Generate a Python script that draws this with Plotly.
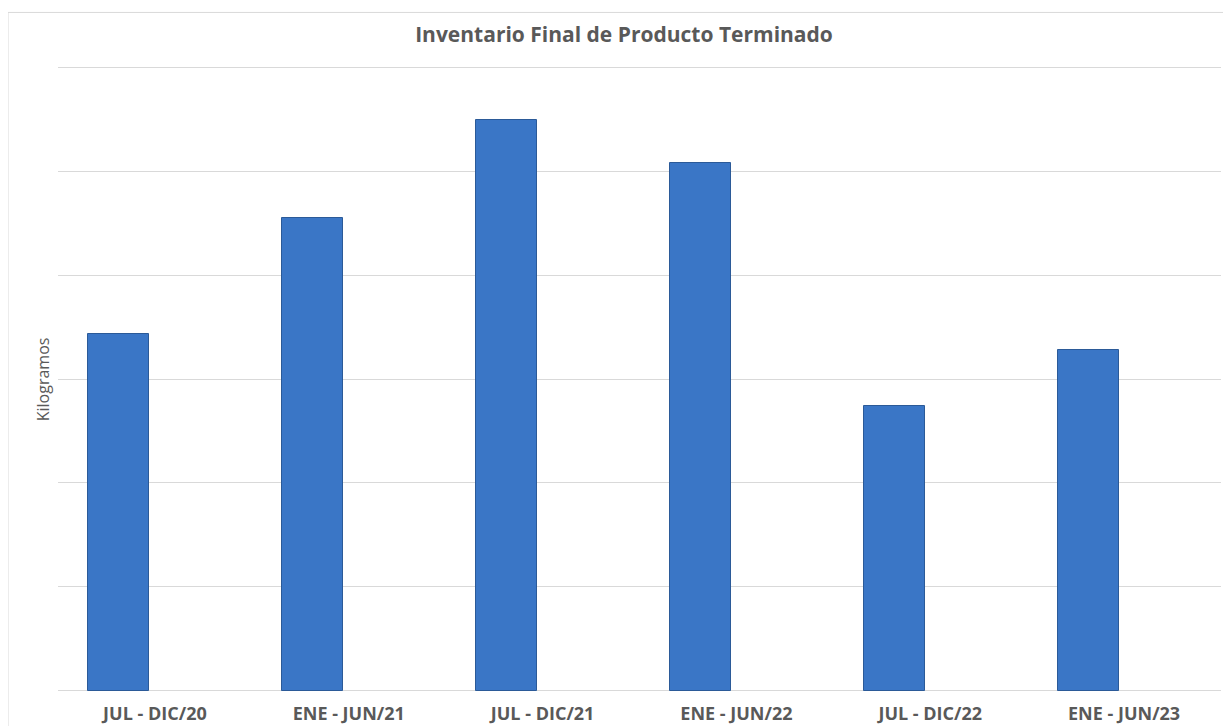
import plotly.graph_objects as go

categories = ["JUL - DIC/20", "ENE - JUN/21", "JUL - DIC/21", "ENE - JUN/22", "JUL - DIC/22", "ENE - JUN/23"]
kilogramos = [34370, 45520, 54880, 50740, 27380, 32760]

title_text = "Inventario Final de Producto Terminado"
y_title = "Kilogramos"

# page body has an 8px margin -> figure origin sits at (8, 8) in the window
OFF = 8
W, H = 1231 - 2 * OFF, 726 - OFF
YMAX, PAD = 60000, 300
px_per_unit = (690.7 - 66.7) / YMAX
plot_x0, plot_x1 = 58 - OFF, 1221 - OFF
plot_y0 = 66.7 - PAD * px_per_unit - OFF
plot_y1 = 690.7 + PAD * px_per_unit - OFF
L, R, T, B = plot_x0, W - plot_x1, plot_y0, H - plot_y1
pw = W - L - R
ph = H - T - B

fig = go.Figure()
fig.add_trace(go.Bar(
    x=categories, y=kilogramos,
    width=0.315, offset=-0.343,
    marker=dict(color="#3a76c6", line=dict(color="#2b5a98", width=1)),
    showlegend=False,
))

fig.update_layout(
    width=W, height=H,
    margin=dict(l=L, r=R, t=T, b=B, autoexpand=False),
    paper_bgcolor="white", plot_bgcolor="white",
    title=dict(text="<b>" + title_text + "</b>", x=(624 - OFF) / W, xanchor="center",
               y=1 - (35 - OFF) / H, yanchor="middle",
               font=dict(family="Open Sans", size=21, color="#595959")),
    xaxis=dict(type="category", showgrid=False, showline=False, zeroline=False,
               ticks="", ticklabelstandoff=7,
               tickfont=dict(family="Open Sans", size=18, color="#595959", weight="bold"),
               range=[-0.5, 5.5]),
    yaxis=dict(range=[-PAD, YMAX + PAD], tick0=0, dtick=10000, showgrid=True, gridcolor="#d9d9d9",
               gridwidth=1, showticklabels=False, zeroline=False, showline=False),
    bargap=0,
    shapes=[dict(type="rect", xref="paper", yref="paper",
                 x0=(8 - OFF - L) / pw, x1=(W + 5 - L) / pw,
                 y0=-(B + 10) / ph, y1=(H - B - (12 - OFF)) / ph,
                 line=dict(color="#d9d9d9", width=1), fillcolor="rgba(0,0,0,0)", layer="below")],
    annotations=[dict(text=y_title, xref="paper", yref="paper",
                      x=(43 - OFF - L) / pw, y=(H - B - (379 - OFF)) / ph, textangle=-90,
                      showarrow=False, xanchor="center", yanchor="middle",
                      font=dict(family="Open Sans", size=16, color="#595959"))],
)

fig.write_html("out.html")
